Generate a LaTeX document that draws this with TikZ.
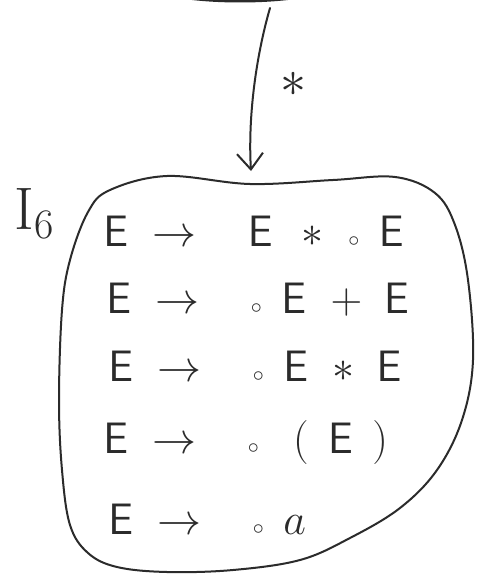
\RequirePackage{fix-cm}
\documentclass[tikz,border=0pt]{standalone}
\usepackage{amsmath}
\usetikzlibrary{arrows.meta}
\definecolor{Ink}{HTML}{2B2B2B}
\newcommand{\itdot}{{\scriptscriptstyle\circ}}
\newcommand{\Ev}{\mathsf{E}}
\newcommand{\goesto}{\mkern5mu\rightarrow\mkern16mu}

\begin{document}
\begin{tikzpicture}[x=0.5pt,y=-0.5pt,
  item/.style={anchor=west,inner sep=0pt,text=Ink,font=\fontsize{22}{26}\selectfont},
  ink/.style={draw=Ink,line width=1pt,line cap=round,line join=round}]
  \useasboundingbox[fill=white] (0,0) rectangle (479,583);
  % bottom edge of the previous state
  \begin{scope}
    \clip (0,0) rectangle (479,583);
    \draw[Ink,line width=2.5pt] (188,-3) .. controls (220,1) and (260,1) .. (292,-3);
  \end{scope}
  % goto edge
  \coordinate (src) at (270,8);
  \coordinate (dst) at (251,171);
  \draw[ink,-{Straight Barb[length=8pt,width=13pt]}] (src) .. controls (255,60) and (248,120) .. (dst);
  \node[item,font=\fontsize{26}{30}\selectfont] (lbl) at (280,84) {$\ast$};
  % state I6
  \draw[ink] plot[smooth cycle,tension=0.6] coordinates {
    (110,190)(167,176)(250,184)(333,180)(395,177)(435,193)(455,225)(468,280)
    (473,360)(462,420)(437,470)(400,508)(350,538)(300,560)(233,570)(167,572)
    (117,567)(88,553)(70,525)(62,470)(59,400)(62,310)(70,260)(88,212)};
  \node[item,font=\fontsize{30}{34}\selectfont] (name) at (14,214) {$\mathrm{I}_{6}$};
  \node[item] (item1) at (103,231) {$\Ev\goesto\Ev\mkern8mu\ast\mkern6mu\itdot\mkern8mu\Ev$};
  \node[item] (item2) at (106,300) {$\Ev\goesto\itdot\mkern8mu\Ev\mkern6mu+\mkern5mu\Ev$};
  \node[item] (item3) at (108,366) {$\Ev\goesto\itdot\mkern8mu\Ev\mkern6mu\ast\mkern5mu\Ev$};
  \node[item] (item4) at (103,442) {$\Ev\goesto\itdot\mkern14mu(\mkern8mu\Ev\mkern8mu)$};
  \node[item] (item5) at (108,519) {$\Ev\goesto\itdot\mkern8mu a$};
\end{tikzpicture}
\end{document}
